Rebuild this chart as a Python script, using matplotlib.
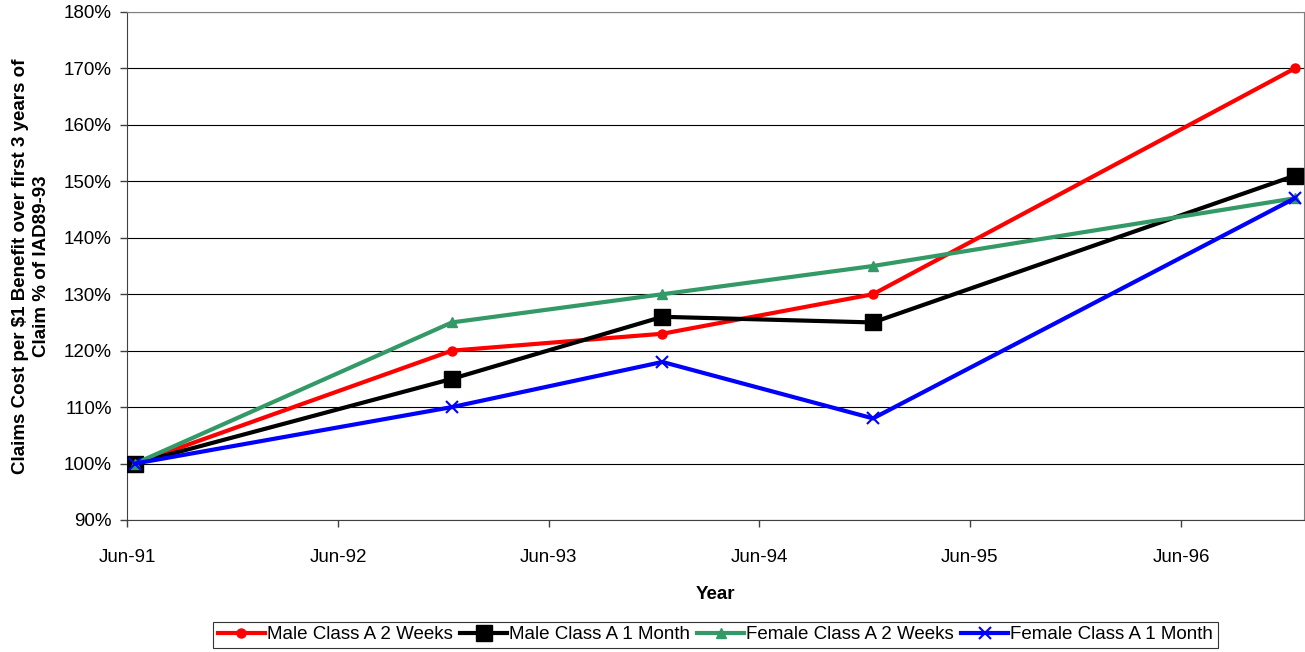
import matplotlib
matplotlib.use("Agg")
import matplotlib.pyplot as plt
from matplotlib.ticker import FuncFormatter, MultipleLocator
import datetime as dt

plt.rcParams['font.family'] = ['Liberation Sans', 'DejaVu Sans']

dates = ["1991-06-15", "1992-12-15", "1993-12-15", "1994-12-15", "1996-12-15"]
male_2w = [100, 120, 123, 130, 170]
male_1m = [100, 115, 126, 125, 151]
female_2w = [100, 125, 130, 135, 147]
female_1m = [100, 110, 118, 108, 147]
tick_years = [1991, 1992, 1993, 1994, 1995, 1996]

x = [dt.datetime.strptime(d, "%Y-%m-%d") for d in dates]

FS = 13.5
fig = plt.figure(figsize=(13.05, 6.52), dpi=100)
ax = fig.add_axes([127/1305, 1-520/652, (1304-127)/1305, (520-12)/652])

ax.plot(x, male_2w, color='#FF0000', lw=3, marker='o', ms=6.5, label='Male Class A 2 Weeks', zorder=3)
ax.plot(x, male_1m, color='#000000', lw=3, marker='s', ms=11, label='Male Class A 1 Month', zorder=3)
ax.plot(x, female_2w, color='#339966', lw=3, marker='^', ms=6.5, label='Female Class A 2 Weeks', zorder=3)
ax.plot(x, female_1m, color='#0000FF', lw=3, marker='x', ms=8, mew=1.5, label='Female Class A 1 Month', zorder=4)

ax.set_xlim(dt.datetime(1991, 6, 1), dt.datetime(1996, 12, 31))
ax.set_ylim(90, 180)
ax.yaxis.set_major_locator(MultipleLocator(10))
ax.yaxis.set_major_formatter(FuncFormatter(lambda v, p: f"{v:.0f}%"))
ax.set_xticks([dt.datetime(y, 6, 1) for y in tick_years])
ax.set_xticklabels([f"Jun-{str(y)[2:]}" for y in tick_years])
ax.grid(axis='y', color='#000000', lw=0.8)
ax.set_axisbelow(True)

for s in ['top', 'right']:
    ax.spines[s].set_color('#808080')
for s in ['left', 'bottom']:
    ax.spines[s].set_color('#404040')
ax.tick_params(direction='out', length=5, labelsize=FS, color='#404040', width=1)
ax.tick_params(axis='y', pad=6)
ax.tick_params(axis='x', pad=16)

ax.set_xlabel('Year', fontsize=FS, fontweight='bold', labelpad=14)
ax.set_ylabel('Claims Cost per $1 Benefit over first 3 years of\nClaim % of IAD89-93', fontsize=FS,
              fontweight='bold', labelpad=10, linespacing=1.3)

leg = ax.legend(loc='upper center', bbox_to_anchor=(0.5, -0.2), ncol=4, frameon=True,
                fancybox=False, edgecolor='black', fontsize=FS, handlelength=2.5,
                handletextpad=0.1, columnspacing=0.4, borderpad=0.25, borderaxespad=0)
leg.get_frame().set_linewidth(0.8)

fig.savefig('out.png', dpi=100)
